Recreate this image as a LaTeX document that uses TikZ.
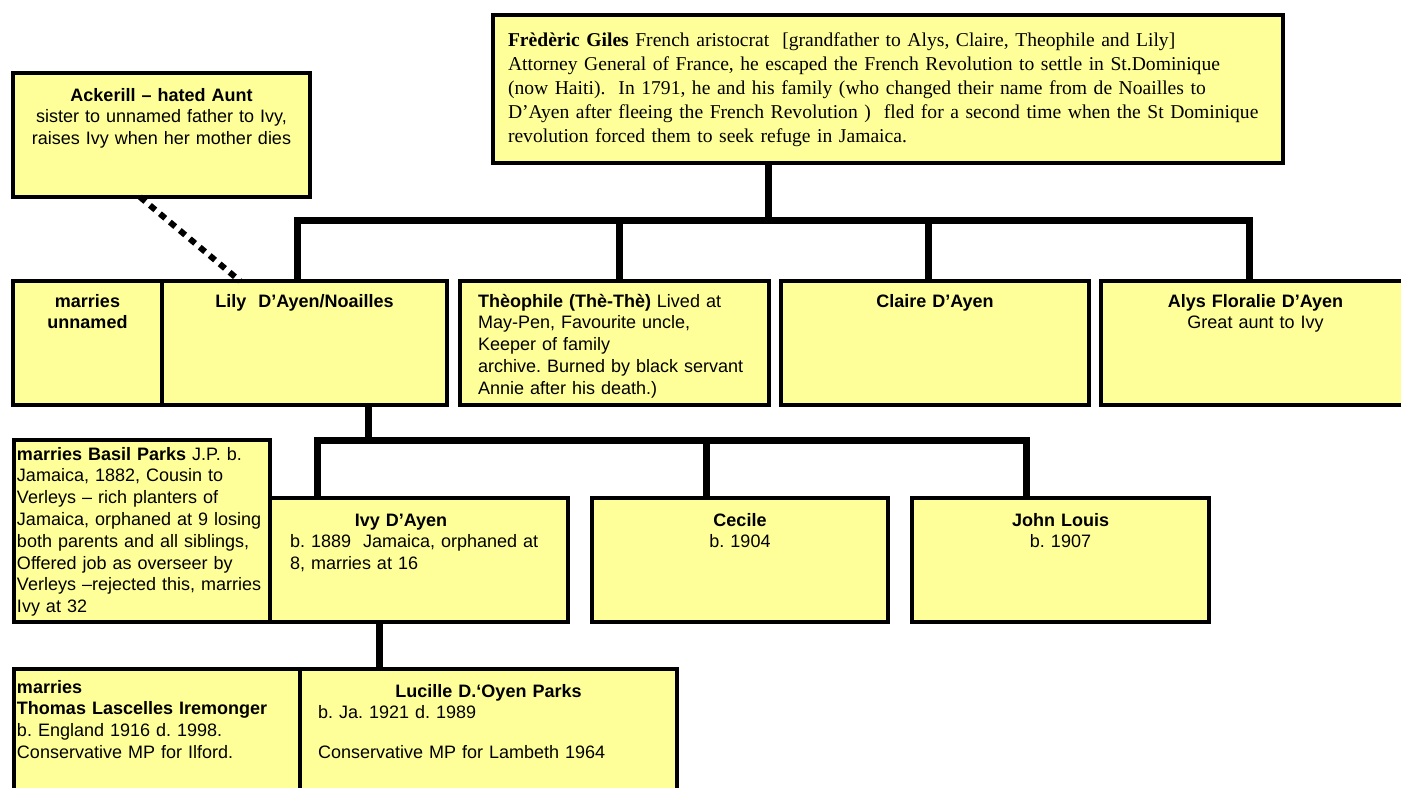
\documentclass[tikz,border=0pt]{standalone}
\usepackage{fontspec}
\newfontfamily\arial{Liberation Sans}
\newfontfamily\oldserif{Liberation Serif}
\usetikzlibrary{positioning}
\definecolor{famyellow}{HTML}{FFFF99}
\newcommand{\arialnine}{\arial\fontsize{9}{10.9}\selectfont}
\frenchspacing

\begin{document}
\begin{tikzpicture}[
  x=0.5pt, y=-0.5pt,
  person_box/.style={rectangle, draw=black, line width=2pt, fill=famyellow, outer sep=0pt, inner ysep=0pt, inner xsep=4pt, align=center, font=\arialnine},
  note_box/.style={person_box, align=left},
  family_line/.style={line width=3.5pt},
  family_bar/.style={family_line, line cap=rect},
  aunt_line/.style={line width=3pt, dash pattern=on 3.5pt off 3pt}
]
\fill[white] (0,0) rectangle (1401,787);
\useasboundingbox (0,0) rectangle (1401,787);
\clip (0,0) rectangle (1401,787);

% Grandfather
\node[note_box, anchor=north west, font=\oldserif\fontsize{9.8}{12}\selectfont, inner xsep=7.5pt, text width=380pt, text height=15.6pt, text depth=58.4pt] (frederic) at (493,15) {\textbf{Frèdèric Giles} French aristocrat~ [grandfather to Alys, Claire, Theophile and Lily]\\ Attorney General of France, he escaped the French Revolution to settle in St.Dominique\\ (now Haiti).~ In 1791, he and his family (who changed their name from de Noailles to\\ D’Ayen after fleeing the French Revolution )~ fled for a second time when the St Dominique\\ revolution forced them to seek refuge in Jamaica.};

% Aunt
\node[person_box, anchor=north west, text width=140.5pt, text height=14pt, text depth=48pt] (ackerill) at (13,73) {\textbf{Ackerill – hated Aunt}\\ sister to unnamed father to Ivy,\\ raises Ivy when her mother dies};

% Children of Frederic
\node[person_box, anchor=north west, inner xsep=2pt, text width=70.5pt, text height=13pt, text depth=49pt] (lily_spouse) at (13,281) {\textbf{marries}\\ \textbf{unnamed}};
\node[person_box, right=0pt of lily_spouse, text width=134.5pt, text height=13pt, text depth=49pt] (lily) {\textbf{Lily~ D’Ayen/Noailles}};
\node[note_box, right=6.5pt of lily, inner xsep=9pt, text width=136.5pt, text height=13pt, text depth=49pt] (theophile) {\textbf{Thèophile (Thè-Thè)} Lived at\\ May-Pen, Favourite uncle,\\ Keeper of family\\ archive. Burned by black servant\\ Annie after his death.)};
\node[person_box, right=6pt of theophile, text width=146pt, text height=13pt, text depth=49pt] (claire) {\textbf{Claire D’Ayen}};
\node[person_box, right=6pt of claire, text width=146.5pt, text height=13pt, text depth=49pt] (alys) {\textbf{Alys Floralie D’Ayen}\\ Great aunt to Ivy};

% Children of Lily
\node[note_box, anchor=north west, inner xsep=1.5pt, text width=125pt, text height=10pt, text depth=81pt] (basil) at (14,440) {\textbf{marries Basil Parks} J.P. b.\\ Jamaica, 1882, Cousin to\\ Verleys – rich planters of\\ Jamaica, orphaned at 9 losing\\ both parents and all siblings,\\ Offered job as overseer by\\ Verleys –rejected this, marries\\ Ivy at 32};
\node[note_box, anchor=south west, inner xsep=10pt, text width=129pt, text height=14pt, text depth=48pt] (ivy) at (basil.south east) {\makebox[111pt]{\textbf{Ivy D’Ayen}}\\ b. 1889~ Jamaica, orphaned at\\ 8, marries at 16};
\node[person_box, right=12pt of ivy, text width=140pt, text height=14pt, text depth=48pt] (cecile) {\textbf{Cecile}\\ b. 1904};
\node[person_box, right=12pt of cecile, text width=140.5pt, text height=14pt, text depth=48pt] (john) {\textbf{John Louis}\\ b. 1907};

% Child of Ivy
\node[note_box, anchor=north west, inner xsep=1.5pt, text width=140pt, text height=12pt, text depth=53.5pt] (thomas) at (14,669) {\textbf{marries}\\ \textbf{Thomas Lascelles Iremonger}\\ b. England 1916 d. 1998.\\ Conservative MP for Ilford.};
\node[note_box, right=0pt of thomas, inner xsep=9pt, text width=170.5pt, text height=14pt, text depth=51.5pt] (lucille) {\centerline{\textbf{Lucille D.‘Oyen Parks}}\\ b. Ja. 1921 d. 1989\\[9pt] Conservative MP for Lambeth 1964};

% Family lines
\coordinate (fam_a) at (768,220);
\coordinate (fam_b) at (368,440);
\draw[family_line] (fam_a |- frederic.south) -- (fam_a);
\draw[family_bar] ([xshift=-3.5pt]lily.north |- fam_a) -- ([xshift=-3.25pt]alys.north |- fam_a);
\foreach \child/\dx in {lily/-3.5, theophile/2.25, claire/-3.5, alys/-3.25}
  \draw[family_line] ([xshift=\dx pt]\child.north |- fam_a) -- ([xshift=\dx pt]\child.north);

\draw[family_line] (fam_b |- lily.south) -- (fam_b);
\draw[family_bar] ([xshift=23.5pt]ivy.north west |- fam_b) -- ([xshift=57pt]john.north west |- fam_b);
\foreach \child/\dx in {ivy/23.5, cecile/57, john/57}
  \draw[family_line] ([xshift=\dx pt]\child.north west |- fam_b) -- ([xshift=\dx pt]\child.north west);

\draw[family_line] ([xshift=54.5pt]ivy.south west) -- ([xshift=54.5pt]ivy.south west |- lucille.north);

% Aunt link
\draw[aunt_line] ([xshift=63.5pt]ackerill.south west) -- ([xshift=39pt]lily.north west);

\end{tikzpicture}
\end{document}
